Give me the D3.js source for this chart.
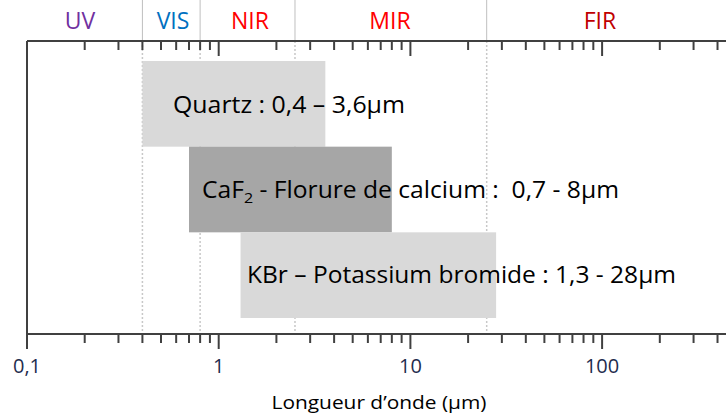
<!DOCTYPE html>
<html><head><meta charset="utf-8">
<script src="https://cdn.jsdelivr.net/npm/d3@7"></script>
<style>body{margin:0;background:#fff}svg{display:block}</style>
</head><body>
<svg id="c" width="726" height="416"></svg>
<script>
// ---- data ----
const materials = ["Quartz", "CaF2", "KBr"];
const rangeStart = [0.4, 0.7, 1.3];
const rangeEnd = [3.6, 8, 28];
const barColors = ["#D9D9D9", "#A6A6A6", "#D9D9D9"];
const regionNames = ["UV", "VIS", "NIR", "MIR", "FIR"];
const regionStart = [0.1, 0.4, 0.8, 2.5, 25];
const regionEnd = [0.4, 0.8, 2.5, 25, 1000];
const regionColors = ["#7030A0", "#0070C0", "#FF0000", "#FF0000", "#C00000"];
const labeledTicks = [0.1, 1, 10, 100];
const tickLabels = ["0,1", "1", "10", "100"];
const axisTitle = "Longueur d\u2019onde (\u00B5m)";

// ---- layout ----
const svg = d3.select("#c");
const font = "'Open Sans', 'Noto Sans', sans-serif";
const x = d3.scaleLog().domain([0.1, 1000]).range([27, 27 + 4 * 191.7]);
const y = d3.scaleBand().domain(materials).range([61, 318]).padding(0);
const topY = 41, botY = 334;
const axisColor = "#404040";

// region boundary lines
const bounds = regionStart.slice(1);
svg.selectAll("line.bt").data(bounds).join("line")
  .attr("x1", d => x(d)).attr("x2", d => x(d)).attr("y1", 0).attr("y2", topY)
  .attr("stroke", "#BFBFBF").attr("stroke-width", 1);
svg.selectAll("line.bb").data(bounds).join("line")
  .attr("x1", d => x(d)).attr("x2", d => x(d)).attr("y1", topY).attr("y2", botY)
  .attr("stroke", "#C8C8C8").attr("stroke-width", 1.5).attr("stroke-dasharray", "2,2");

// region labels
const regX = [80, 173, 250, 390, 600];
svg.selectAll("text.reg").data(regionNames).join("text")
  .attr("x", (d, i) => regX[i])
  .attr("y", 29).attr("text-anchor", "middle")
  .attr("font-family", font).attr("font-size", 23)
  .attr("fill", (d, i) => regionColors[i]).text(d => d);

// bars
svg.selectAll("rect.bar").data(materials).join("rect")
  .attr("x", (d, i) => x(rangeStart[i]))
  .attr("width", (d, i) => x(rangeEnd[i]) - x(rangeStart[i]))
  .attr("y", d => y(d)).attr("height", y.bandwidth())
  .attr("fill", (d, i) => barColors[i]);

// bar labels
const fs = 23;
const lbl = (txt, xx, yy, w) => svg.append("text").attr("x", xx).attr("y", yy)
  .attr("font-family", font).attr("font-size", fs).attr("fill", "#000")
  .attr("textLength", w).attr("lengthAdjust", "spacingAndGlyphs").text(txt);
lbl("Quartz : 0,4 \u2013 3,6\u00B5m", 173, 113, 232);
const t2 = svg.append("text").attr("x", 202).attr("y", 198)
  .attr("font-family", font).attr("font-size", fs).attr("fill", "#000")
  .attr("textLength", 417).attr("lengthAdjust", "spacingAndGlyphs");
t2.append("tspan").text("CaF");
t2.append("tspan").attr("font-size", 15).attr("dy", 5).text("2");
t2.append("tspan").attr("dy", -5).text(" - Florure de calcium :\u00A0 0,7 - 8\u00B5m");
lbl("KBr \u2013 Potassium bromide : 1,3 - 28\u00B5m", 247, 283, 429);

// left line
svg.append("line").attr("x1", 27).attr("x2", 27).attr("y1", topY).attr("y2", botY)
  .attr("stroke", axisColor).attr("stroke-width", 2);

// axes
const ticks = x.ticks();
const isMajor = d => labeledTicks.some(v => Math.abs(v - d) < 1e-9);
function drawAxis(yy, minorLen, majorLen) {
  const g = svg.append("g");
  g.append("line").attr("x1", 27).attr("x2", 726).attr("y1", yy).attr("y2", yy)
    .attr("stroke", axisColor).attr("stroke-width", 2);
  g.selectAll("line.t").data(ticks).join("line")
    .attr("x1", d => x(d)).attr("x2", d => x(d))
    .attr("y1", yy).attr("y2", d => yy + (isMajor(d) ? majorLen : minorLen))
    .attr("stroke", axisColor).attr("stroke-width", 2);
}
drawAxis(topY, 9, 15);
drawAxis(botY, 9, 15);

svg.selectAll("text.tl").data(labeledTicks).join("text")
  .attr("x", d => x(d)).attr("y", 373).attr("text-anchor", "middle")
  .attr("font-family", font).attr("font-size", 20).attr("fill", "#1F2D4E")
  .text((d, i) => tickLabels[i]);

svg.append("text").attr("x", 379).attr("y", 409).attr("text-anchor", "middle")
  .attr("font-family", font).attr("font-size", 18).attr("fill", "#000")
  .attr("textLength", 215).attr("lengthAdjust", "spacingAndGlyphs").text(axisTitle);
</script>
</body></html>
